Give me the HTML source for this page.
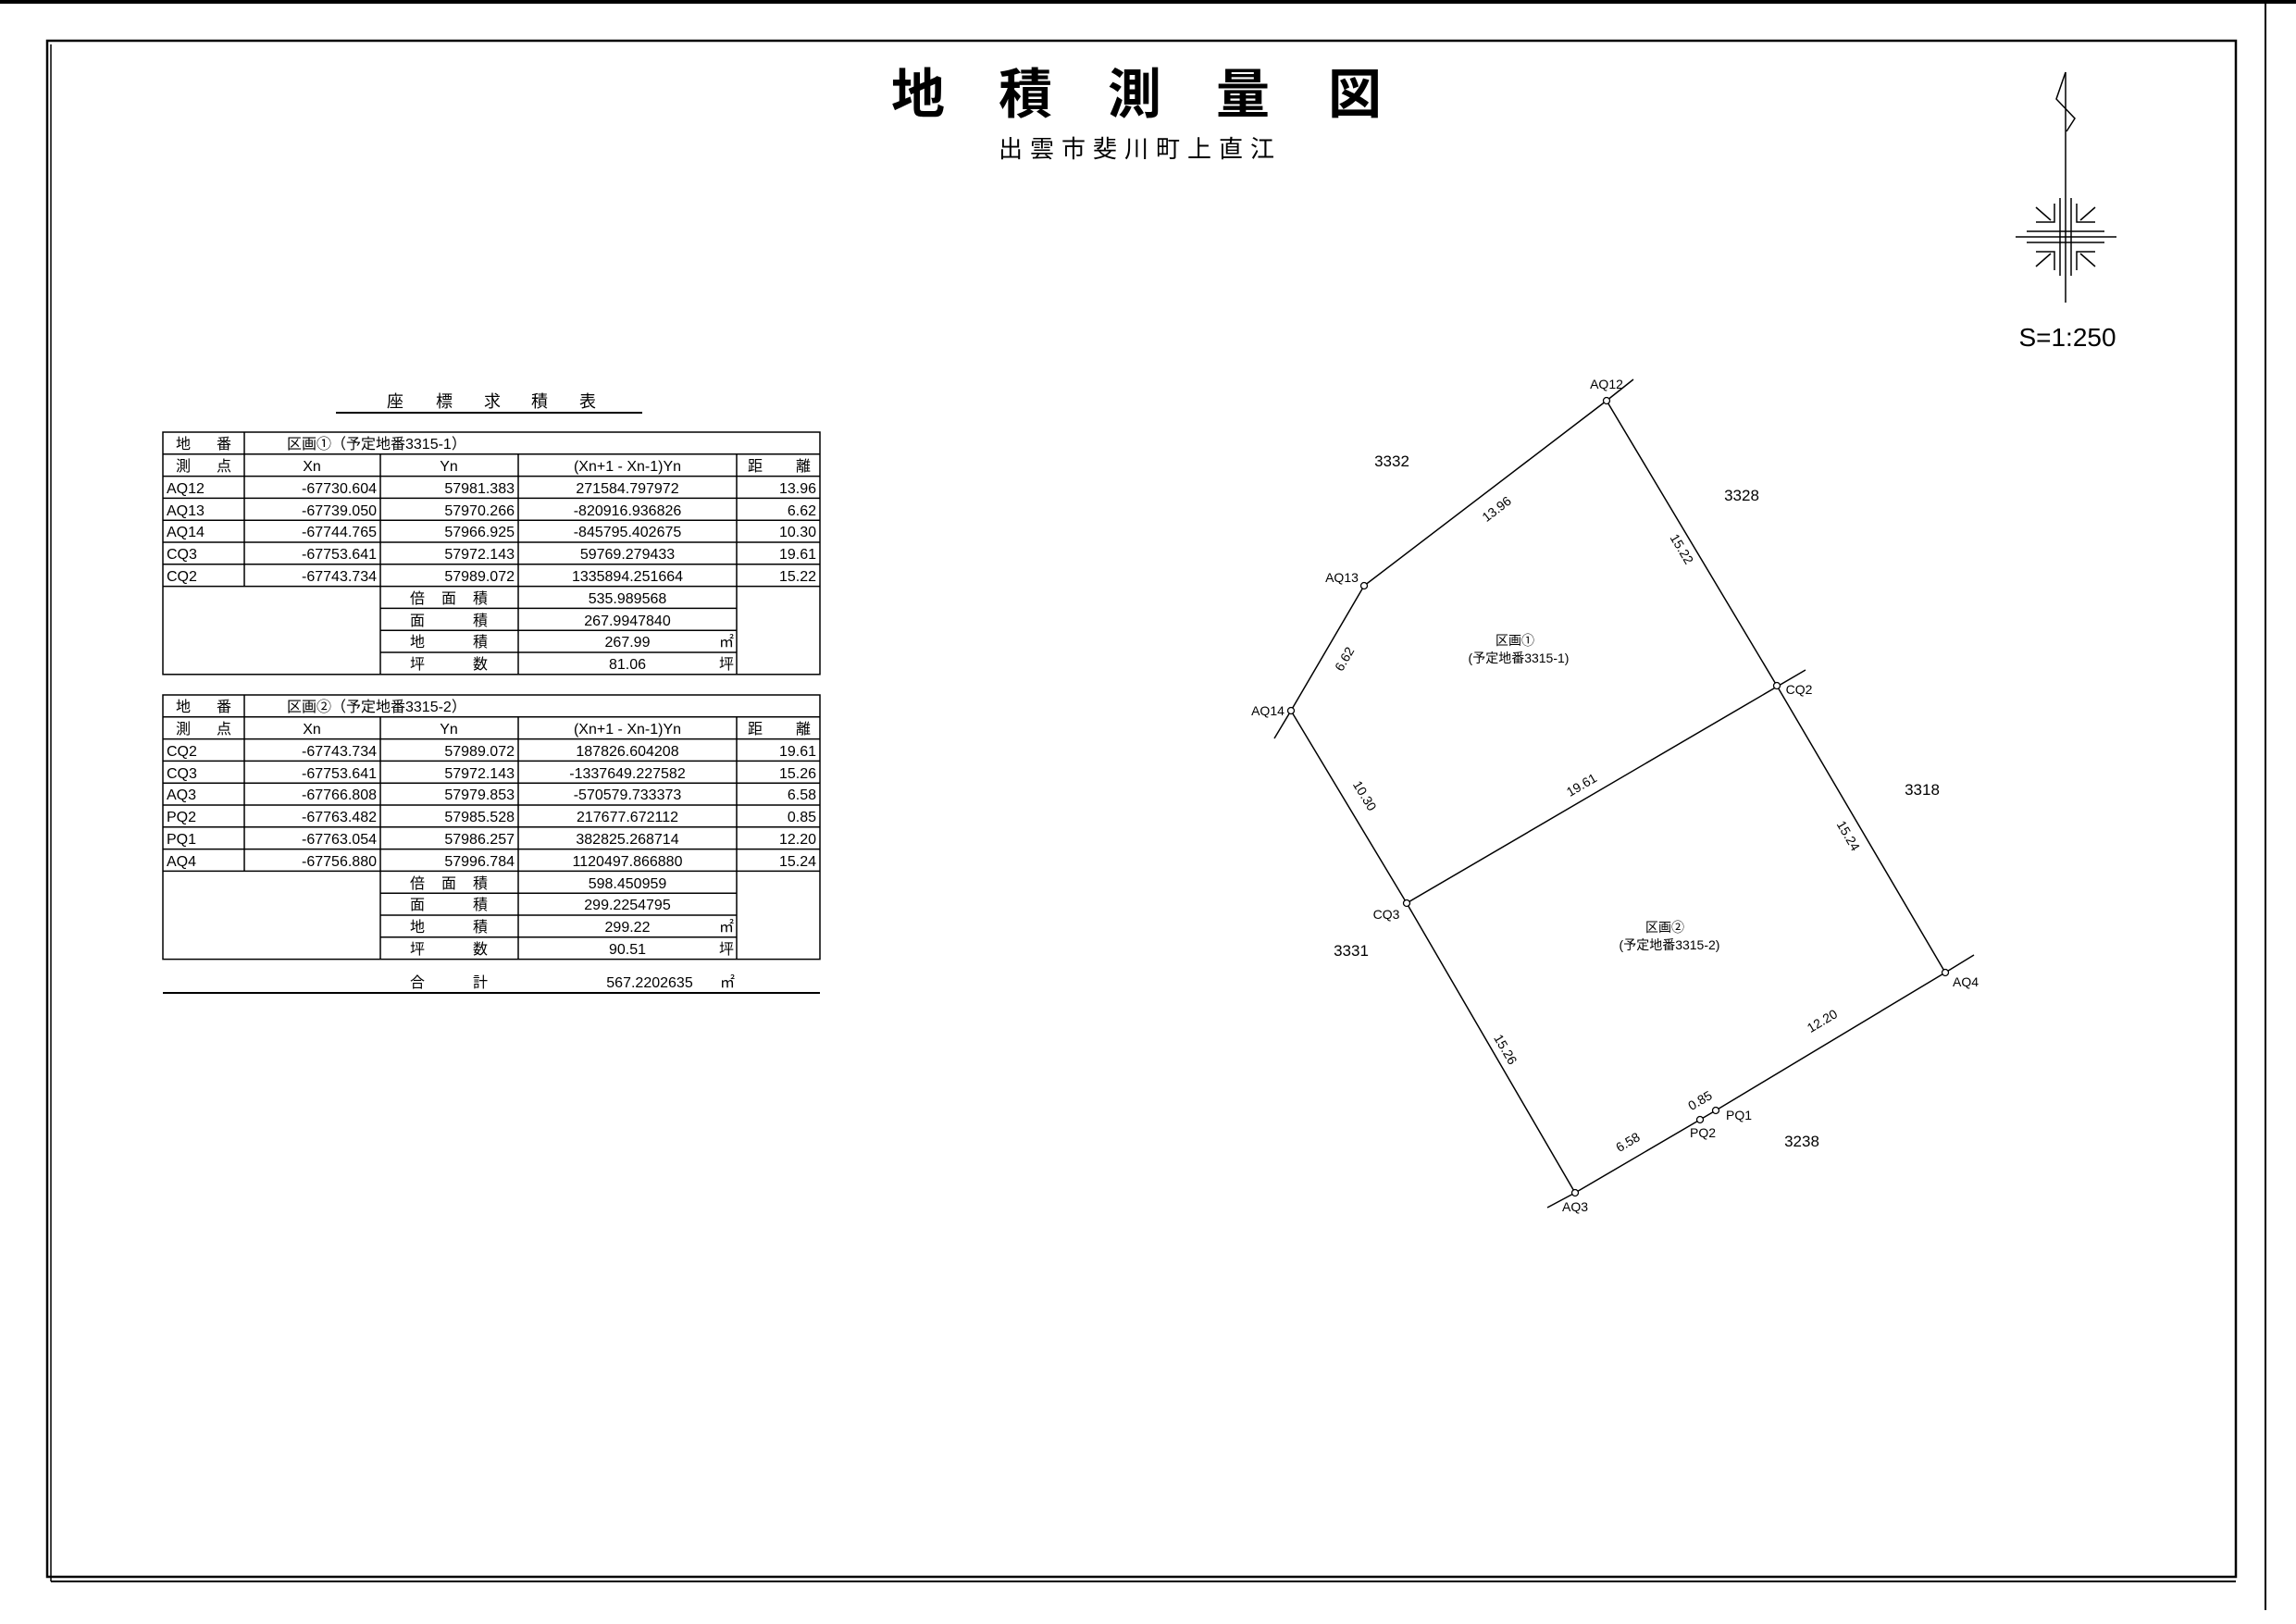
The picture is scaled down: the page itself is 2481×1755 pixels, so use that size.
<!DOCTYPE html>
<html><head><meta charset="utf-8"><style>
html,body{margin:0;padding:0;background:#fff;}
svg{display:block;}
text{font-family:"Liberation Sans","Noto Sans CJK JP",sans-serif;fill:#000;}
.t{font-size:16px;}
.m{font-size:14px;}
.p{font-size:17px;}
</style></head><body>
<svg width="2481" height="1755" viewBox="0 0 2481 1755" xmlns="http://www.w3.org/2000/svg">
<line x1="0" y1="2" x2="2481" y2="2" stroke="#000" stroke-width="4"/>
<line x1="2448" y1="0" x2="2448" y2="1740" stroke="#000" stroke-width="2"/>
<line x1="55" y1="1709" x2="2416" y2="1709" stroke="#000" stroke-width="2"/>
<line x1="55" y1="48" x2="55" y2="1709" stroke="#000" stroke-width="1.5"/>
<rect x="51" y="44" width="2365" height="1660" fill="none" stroke="#000" stroke-width="2.5"/>

<g font-size="58" font-weight="bold" text-anchor="middle">
<text x="992" y="122">地</text><text x="1108" y="122">積</text><text x="1226" y="122">測</text><text x="1343" y="122">量</text><text x="1464" y="122">図</text>
</g>
<text x="1232" y="170" font-size="26" text-anchor="middle" letter-spacing="8">出雲市斐川町上直江</text>

<g stroke="#000" fill="none" stroke-width="1.5">
<line x1="2232" y1="78" x2="2232" y2="327"/>
<polyline points="2232,78 2222,107 2242,128 2233,142"/>
<line x1="2178" y1="256" x2="2287" y2="256"/>
<line x1="2226" y1="214" x2="2226" y2="298"/><line x1="2238" y1="214" x2="2238" y2="298"/>
<line x1="2190" y1="250" x2="2274" y2="250"/><line x1="2190" y1="262" x2="2274" y2="262"/>
<polyline points="2200,240 2220,240 2220,220"/><polyline points="2264,240 2244,240 2244,220"/>
<polyline points="2200,272 2220,272 2220,292"/><polyline points="2264,272 2244,272 2244,292"/>
<line x1="2200" y1="224" x2="2216" y2="238"/><line x1="2264" y1="224" x2="2248" y2="238"/>
<line x1="2200" y1="288" x2="2216" y2="274"/><line x1="2264" y1="288" x2="2248" y2="274"/>
</g>
<text x="2234" y="374" font-size="28" text-anchor="middle">S=1:250</text>

<g font-size="18" text-anchor="middle">
<text x="427" y="440">座</text><text x="480" y="440">標</text><text x="532" y="440">求</text><text x="583" y="440">積</text><text x="635" y="440">表</text>
</g>
<line x1="363" y1="446" x2="694" y2="446" stroke="#000" stroke-width="2"/>

<g transform="translate(0,467)" stroke="#000" stroke-width="1.5">
<rect x="176" y="0" width="710" height="261.8" fill="none"/>
<line x1="176" y1="23.8" x2="886" y2="23.8"/><line x1="176" y1="47.6" x2="886" y2="47.6"/>
<line x1="176" y1="71.4" x2="886" y2="71.4"/><line x1="176" y1="95.2" x2="886" y2="95.2"/>
<line x1="176" y1="119" x2="886" y2="119"/><line x1="176" y1="142.8" x2="886" y2="142.8"/>
<line x1="176" y1="166.6" x2="886" y2="166.6"/>
<line x1="411" y1="190.4" x2="796" y2="190.4"/><line x1="411" y1="214.2" x2="796" y2="214.2"/><line x1="411" y1="238" x2="796" y2="238"/>
<line x1="264" y1="0" x2="264" y2="166.6"/>
<line x1="411" y1="23.8" x2="411" y2="261.8"/><line x1="560" y1="23.8" x2="560" y2="261.8"/><line x1="796" y1="23.8" x2="796" y2="261.8"/>
</g>
<g transform="translate(0,467)" class="t">
<text x="190" y="18">地</text><text x="234" y="18">番</text>
<text x="310" y="18">区画①（予定地番3315-1）</text>
<text x="190" y="42">測</text><text x="234" y="42">点</text>
<text x="337" y="42" text-anchor="middle">Xn</text><text x="485" y="42" text-anchor="middle">Yn</text>
<text x="678" y="42" text-anchor="middle">(Xn+1 - Xn-1)Yn</text><text x="808" y="42">距</text><text x="860" y="42">離</text>
<text x="180" y="66">AQ12</text><text x="407" y="66" text-anchor="end">-67730.604</text><text x="556" y="66" text-anchor="end">57981.383</text><text x="678" y="66" text-anchor="middle">271584.797972</text><text x="882" y="66" text-anchor="end">13.96</text>
<text x="180" y="90">AQ13</text><text x="407" y="90" text-anchor="end">-67739.050</text><text x="556" y="90" text-anchor="end">57970.266</text><text x="678" y="90" text-anchor="middle">-820916.936826</text><text x="882" y="90" text-anchor="end">6.62</text>
<text x="180" y="113">AQ14</text><text x="407" y="113" text-anchor="end">-67744.765</text><text x="556" y="113" text-anchor="end">57966.925</text><text x="678" y="113" text-anchor="middle">-845795.402675</text><text x="882" y="113" text-anchor="end">10.30</text>
<text x="180" y="137">CQ3</text><text x="407" y="137" text-anchor="end">-67753.641</text><text x="556" y="137" text-anchor="end">57972.143</text><text x="678" y="137" text-anchor="middle">59769.279433</text><text x="882" y="137" text-anchor="end">19.61</text>
<text x="180" y="161">CQ2</text><text x="407" y="161" text-anchor="end">-67743.734</text><text x="556" y="161" text-anchor="end">57989.072</text><text x="678" y="161" text-anchor="middle">1335894.251664</text><text x="882" y="161" text-anchor="end">15.22</text>
<text x="443" y="185">倍</text><text x="477" y="185">面</text><text x="511" y="185">積</text><text x="678" y="185" text-anchor="middle">535.989568</text>
<text x="443" y="209">面</text><text x="511" y="209">積</text><text x="678" y="209" text-anchor="middle">267.9947840</text>
<text x="443" y="232">地</text><text x="511" y="232">積</text><text x="678" y="232" text-anchor="middle">267.99</text><text x="793" y="232" text-anchor="end">㎡</text>
<text x="443" y="256">坪</text><text x="511" y="256">数</text><text x="678" y="256" text-anchor="middle">81.06</text><text x="793" y="256" text-anchor="end">坪</text>
</g>

<g transform="translate(0,751)" stroke="#000" stroke-width="1.5">
<rect x="176" y="0" width="710" height="285.6" fill="none"/>
<line x1="176" y1="23.8" x2="886" y2="23.8"/><line x1="176" y1="47.6" x2="886" y2="47.6"/>
<line x1="176" y1="71.4" x2="886" y2="71.4"/><line x1="176" y1="95.2" x2="886" y2="95.2"/>
<line x1="176" y1="119" x2="886" y2="119"/><line x1="176" y1="142.8" x2="886" y2="142.8"/>
<line x1="176" y1="166.6" x2="886" y2="166.6"/><line x1="176" y1="190.4" x2="886" y2="190.4"/>
<line x1="411" y1="214.2" x2="796" y2="214.2"/><line x1="411" y1="238" x2="796" y2="238"/><line x1="411" y1="261.8" x2="796" y2="261.8"/>
<line x1="264" y1="0" x2="264" y2="190.4"/>
<line x1="411" y1="23.8" x2="411" y2="285.6"/><line x1="560" y1="23.8" x2="560" y2="285.6"/><line x1="796" y1="23.8" x2="796" y2="285.6"/>
</g>
<g transform="translate(0,751)" class="t">
<text x="190" y="18">地</text><text x="234" y="18">番</text>
<text x="310" y="18">区画②（予定地番3315-2）</text>
<text x="190" y="42">測</text><text x="234" y="42">点</text>
<text x="337" y="42" text-anchor="middle">Xn</text><text x="485" y="42" text-anchor="middle">Yn</text>
<text x="678" y="42" text-anchor="middle">(Xn+1 - Xn-1)Yn</text><text x="808" y="42">距</text><text x="860" y="42">離</text>
<text x="180" y="66">CQ2</text><text x="407" y="66" text-anchor="end">-67743.734</text><text x="556" y="66" text-anchor="end">57989.072</text><text x="678" y="66" text-anchor="middle">187826.604208</text><text x="882" y="66" text-anchor="end">19.61</text>
<text x="180" y="90">CQ3</text><text x="407" y="90" text-anchor="end">-67753.641</text><text x="556" y="90" text-anchor="end">57972.143</text><text x="678" y="90" text-anchor="middle">-1337649.227582</text><text x="882" y="90" text-anchor="end">15.26</text>
<text x="180" y="113">AQ3</text><text x="407" y="113" text-anchor="end">-67766.808</text><text x="556" y="113" text-anchor="end">57979.853</text><text x="678" y="113" text-anchor="middle">-570579.733373</text><text x="882" y="113" text-anchor="end">6.58</text>
<text x="180" y="137">PQ2</text><text x="407" y="137" text-anchor="end">-67763.482</text><text x="556" y="137" text-anchor="end">57985.528</text><text x="678" y="137" text-anchor="middle">217677.672112</text><text x="882" y="137" text-anchor="end">0.85</text>
<text x="180" y="161">PQ1</text><text x="407" y="161" text-anchor="end">-67763.054</text><text x="556" y="161" text-anchor="end">57986.257</text><text x="678" y="161" text-anchor="middle">382825.268714</text><text x="882" y="161" text-anchor="end">12.20</text>
<text x="180" y="185">AQ4</text><text x="407" y="185" text-anchor="end">-67756.880</text><text x="556" y="185" text-anchor="end">57996.784</text><text x="678" y="185" text-anchor="middle">1120497.866880</text><text x="882" y="185" text-anchor="end">15.24</text>
<text x="443" y="209">倍</text><text x="477" y="209">面</text><text x="511" y="209">積</text><text x="678" y="209" text-anchor="middle">598.450959</text>
<text x="443" y="232">面</text><text x="511" y="232">積</text><text x="678" y="232" text-anchor="middle">299.2254795</text>
<text x="443" y="256">地</text><text x="511" y="256">積</text><text x="678" y="256" text-anchor="middle">299.22</text><text x="793" y="256" text-anchor="end">㎡</text>
<text x="443" y="280">坪</text><text x="511" y="280">数</text><text x="678" y="280" text-anchor="middle">90.51</text><text x="793" y="280" text-anchor="end">坪</text>
</g>
<g class="t">
<text x="443" y="1067">合</text><text x="511" y="1067">計</text>
<text x="702" y="1067" text-anchor="middle">567.2202635</text><text x="778" y="1067">㎡</text>
</g>
<line x1="176" y1="1073" x2="886" y2="1073" stroke="#000" stroke-width="2"/>

<g stroke="#000" stroke-width="1.5" fill="none">
<polyline points="1765,410 1736,433 1474,633 1395,768 1377,798"/>
<polyline points="1736,433 1920,741 2102,1051"/>
<polyline points="1395,768 1520,976 1702,1289"/>
<line x1="1520" y1="976" x2="1951" y2="724"/>
<polyline points="1672,1305 1702,1289 1837,1210 1854,1200 2102,1051 2133,1032"/>
</g>
<g stroke="#000" stroke-width="1.3" fill="#fff">
<circle cx="1736" cy="433" r="3.5"/><circle cx="1474" cy="633" r="3.5"/><circle cx="1395" cy="768" r="3.5"/>
<circle cx="1920" cy="741" r="3.5"/><circle cx="1520" cy="976" r="3.5"/><circle cx="2102" cy="1051" r="3.5"/>
<circle cx="1702" cy="1289" r="3.5"/><circle cx="1837" cy="1210" r="3.5"/><circle cx="1854" cy="1200" r="3.5"/>
</g>
<g class="m" text-anchor="middle">
<text x="1736" y="420">AQ12</text><text x="1450" y="629">AQ13</text><text x="1370" y="773">AQ14</text>
<text x="1944" y="750">CQ2</text><text x="1498" y="993">CQ3</text><text x="2124" y="1066">AQ4</text>
<text x="1702" y="1309">AQ3</text><text x="1840" y="1229">PQ2</text><text x="1879" y="1210">PQ1</text>
</g>
<g class="p" text-anchor="middle">
<text x="1504" y="504">3332</text><text x="1882" y="541">3328</text><text x="2077" y="859">3318</text>
<text x="1460" y="1033">3331</text><text x="1947" y="1239">3238</text>
</g>
<g class="m" text-anchor="middle">
<text x="1637" y="697">区画①</text><text x="1641" y="716">(予定地番3315-1)</text>
<text x="1799" y="1007">区画②</text><text x="1804" y="1026">(予定地番3315-2)</text>
</g>
<g class="m" text-anchor="middle">
<text transform="translate(1611,542) rotate(-37.4)" y="15">13.96</text>
<text transform="translate(1826,588) rotate(59)" y="15">15.22</text>
<text transform="translate(1444,707) rotate(-59.7)" y="15">6.62</text>
<text transform="translate(1468,864) rotate(59)" y="-3">10.30</text>
<text transform="translate(1713,855) rotate(-30.4)" y="-3">19.61</text>
<text transform="translate(2006,898) rotate(59.6)" y="15">15.24</text>
<text transform="translate(1620,1138) rotate(59.7)" y="-3">15.26</text>
<text transform="translate(1973,1110) rotate(-30.6)" y="-3">12.20</text>
<text transform="translate(1763,1241) rotate(-30.6)" y="-3">6.58</text>
<text transform="translate(1841,1196) rotate(-30.6)" y="-3">0.85</text>
</g>
</svg>
</body></html>
